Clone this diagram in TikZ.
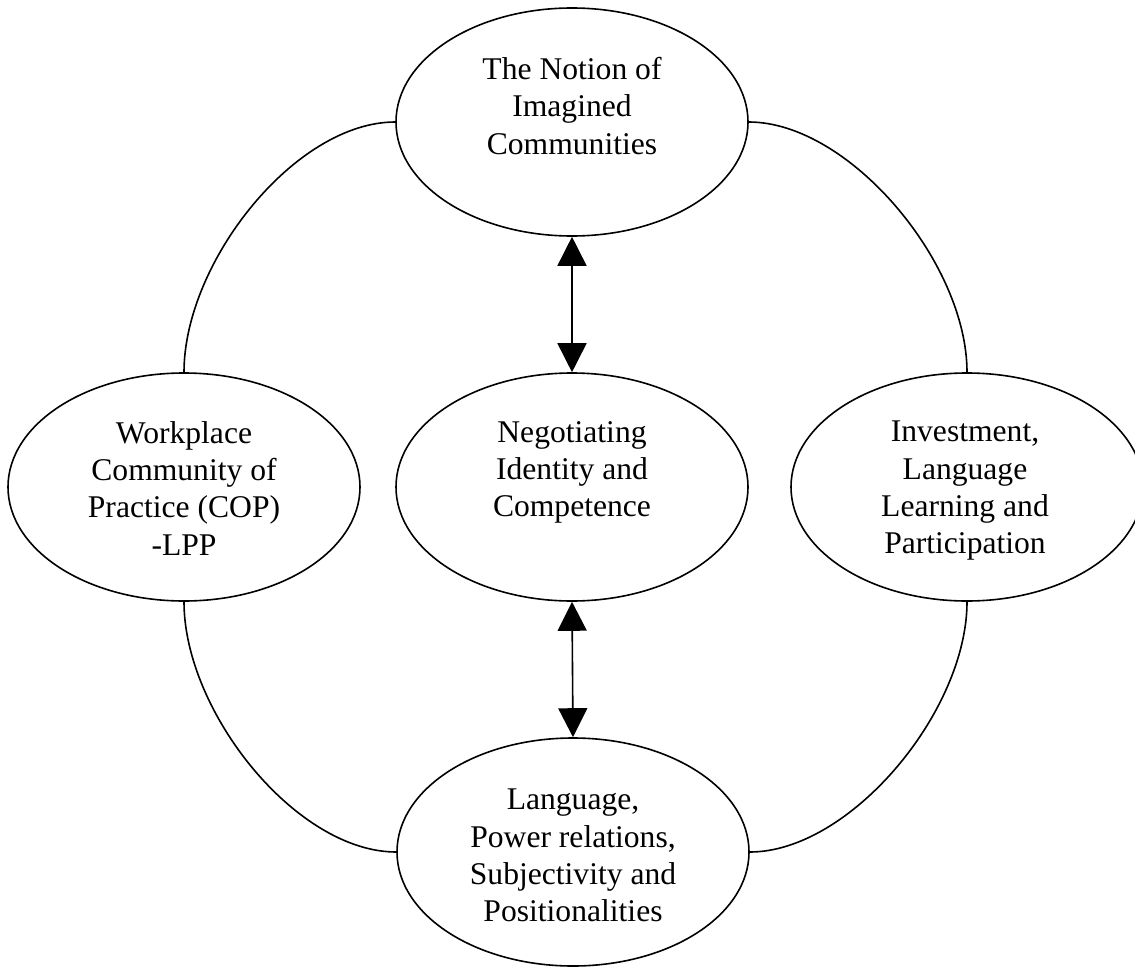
\documentclass[tikz,border=0pt]{standalone}
\usepackage{fontspec}
\setmainfont{Liberation Serif}
\usepackage{tikz}
\usetikzlibrary{shapes.geometric,arrows.meta}

\tikzset{
  bubble/.style={draw, line width=1.2pt, ellipse, inner sep=0pt,
    minimum width=264pt, minimum height=171pt},
  txt/.style={align=center, inner sep=0pt, anchor=north,
    font=\fontsize{23.7pt}{28pt}\selectfont},
  link/.style={line width=1.2pt},
  twoway/.style={line width=1.2pt,
    {Triangle[length=21.75pt,width=21.75pt]}-{Triangle[length=21.75pt,width=21.75pt]}}
}

\begin{document}
\begin{tikzpicture}[x=0.75pt,y=0.75pt,yscale=-1,xscale=1]
%set diagram size
\useasboundingbox (0,0) rectangle (1135,967);

% Ellipses
\draw (572,122) node [bubble] (imag) {};
\draw (572,487) node [bubble] (negot) {};
\draw (184,487) node [bubble] (cop) {};
\draw (967,487) node [bubble] (invest) {};
\draw (573,852) node [bubble] (power) {};

% Text Node
\draw (572,57) node [txt] (imagtxt) {The Notion of\\Imagined\\Communities};
% Text Node
\draw (572,421) node [txt] (negottxt) {Negotiating\\Identity and\\Competence};
% Text Node
\draw (184,421) node [txt] (coptxt) {Workplace\\Community of\\Practice (COP)\\-LPP};
% Text Node
\draw (965,421) node [txt] (investtxt) {Investment,\\Language\\Learning and\\Participation};
% Text Node
\draw (573,789) node [txt] (powertxt) {Language,\\Power relations,\\Subjectivity and\\Positionalities};

%Curve Lines
\draw [link] (imag.west) .. controls +(-100,0) and +(0,-110) .. (cop.north);
\draw [link] (imag.east) .. controls +(100,0) and +(0,-110) .. (invest.north);
\draw [link] (cop.south) .. controls +(0,110) and +(-100,0) .. (power.west);
\draw [link] (invest.south) .. controls +(0,110) and +(100,0) .. (power.east);

%Straight Lines
\draw [twoway] (imag.south) -- (negot.north);
\draw [twoway] (negot.south) -- (power.north);

\end{tikzpicture}
\end{document}
